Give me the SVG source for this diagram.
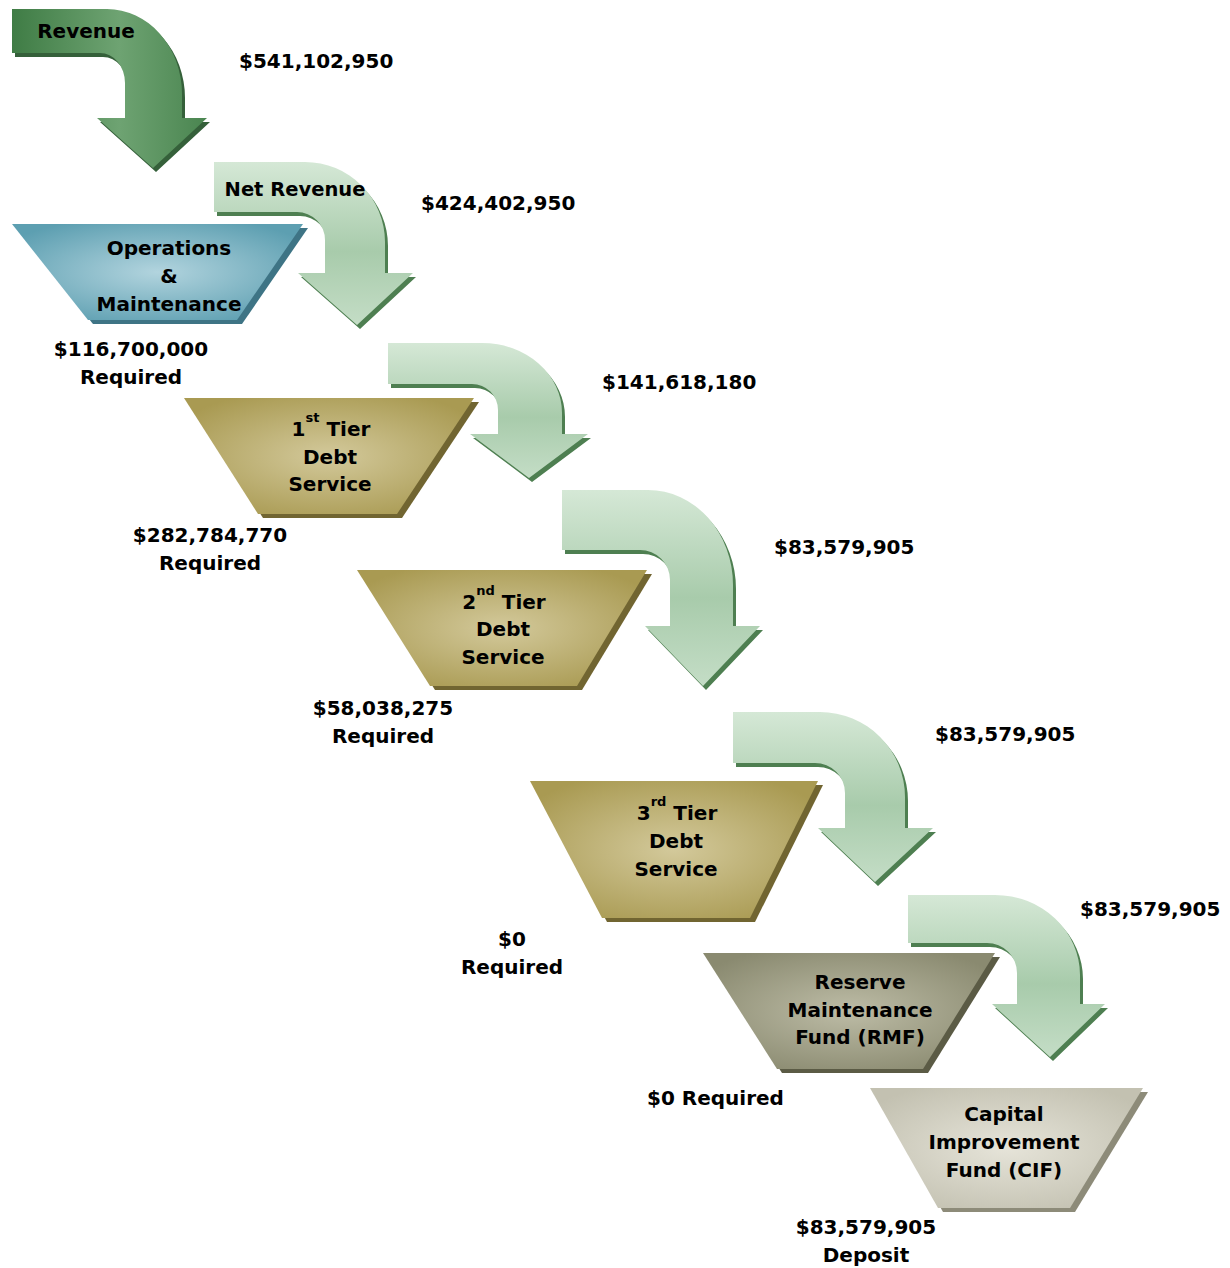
<svg xmlns="http://www.w3.org/2000/svg" width="1230" height="1268" viewBox="0 0 1230 1268">
<defs>
<linearGradient id="gLight" x1="0" y1="0" x2="0" y2="1">
<stop offset="0" stop-color="#d5e8d6"/>
<stop offset="0.55" stop-color="#a8cbab"/>
<stop offset="1" stop-color="#c4ddc6"/>
</linearGradient>
<linearGradient id="gDark" x1="0" y1="0" x2="1" y2="0">
<stop offset="0" stop-color="#3f7c45"/>
<stop offset="0.55" stop-color="#6ea372"/>
<stop offset="1" stop-color="#4a8550"/>
</linearGradient>
<radialGradient id="gTeal" cx="0.5" cy="0.5" r="0.6">
<stop offset="0" stop-color="#b2d4de"/>
<stop offset="1" stop-color="#5d9fb1"/>
</radialGradient>
<radialGradient id="gGold" cx="0.5" cy="0.5" r="0.6">
<stop offset="0" stop-color="#d3c99b"/>
<stop offset="1" stop-color="#a99a52"/>
</radialGradient>
<radialGradient id="gRmf" cx="0.5" cy="0.5" r="0.6">
<stop offset="0" stop-color="#bdbca6"/>
<stop offset="1" stop-color="#8a8a70"/>
</radialGradient>
<radialGradient id="gCif" cx="0.5" cy="0.5" r="0.6">
<stop offset="0" stop-color="#e6e4d9"/>
<stop offset="1" stop-color="#c3c1b1"/>
</radialGradient>
</defs>
<style>
text{font-family:"DejaVu Sans","Liberation Sans",sans-serif;font-weight:bold;font-size:20px;fill:#000}
.c{text-anchor:middle}
.sup{font-size:13px}
.shL{fill:#4e7f51}
.shD{fill:#35603a}
.arL{fill:url(#gLight)}
.arD{fill:url(#gDark)}
.shT{fill:#3e7485}
.shG{fill:#716531}
.shR{fill:#5b5b45}
.shC{fill:#8d8b79}
</style>

<g id="connectors">
<g id="arrow-revenue">
<path class="shD" transform="translate(3,4)" d="M12,9 L107,9 A75,85 0 0 1 182,94 L182,118 L207,118 L153,168 L97,118 L125,118 L125,83 A25,30 0 0 0 100,53 L12,53 Z"/>
<path class="arD" d="M12,9 L107,9 A75,85 0 0 1 182,94 L182,118 L207,118 L153,168 L97,118 L125,118 L125,83 A25,30 0 0 0 100,53 L12,53 Z"/>
</g>
<g id="arrow-net">
<path class="shL" transform="translate(3,4)" d="M214,162 L305,162 A80,80 0 0 1 385,242 L385,273 L413,273 L357,325 L298,273 L325,273 L325,240 A28,28 0 0 0 297,212 L214,212 Z"/>
<path class="arL" d="M214,162 L305,162 A80,80 0 0 1 385,242 L385,273 L413,273 L357,325 L298,273 L325,273 L325,240 A28,28 0 0 0 297,212 L214,212 Z"/>
</g>
<g id="arrow-3">
<path class="shL" transform="translate(3,4)" d="M388,343 L482,343 A80,70 0 0 1 562,413 L562,434 L588,434 L529,478 L470,434 L498,434 L498,410 A26,26 0 0 0 472,384 L388,384 Z"/>
<path class="arL" d="M388,343 L482,343 A80,70 0 0 1 562,413 L562,434 L588,434 L529,478 L470,434 L498,434 L498,410 A26,26 0 0 0 472,384 L388,384 Z"/>
</g>
<g id="arrow-4">
<path class="shL" transform="translate(3,4)" d="M562,490 L648,490 A85,95 0 0 1 733,585 L733,626 L760,626 L703,686 L645,626 L670,626 L670,580 A30,30 0 0 0 640,550 L562,550 Z"/>
<path class="arL" d="M562,490 L648,490 A85,95 0 0 1 733,585 L733,626 L760,626 L703,686 L645,626 L670,626 L670,580 A30,30 0 0 0 640,550 L562,550 Z"/>
</g>
<g id="arrow-5">
<path class="shL" transform="translate(3,4)" d="M733,712 L820,712 A85,85 0 0 1 905,797 L905,828 L933,828 L875,882 L818,828 L845,828 L845,793 A30,30 0 0 0 815,763 L733,763 Z"/>
<path class="arL" d="M733,712 L820,712 A85,85 0 0 1 905,797 L905,828 L933,828 L875,882 L818,828 L845,828 L845,793 A30,30 0 0 0 815,763 L733,763 Z"/>
</g>
<g id="arrow-6">
<path class="shL" transform="translate(3,4)" d="M908,895 L995,895 A85,80 0 0 1 1080,975 L1080,1004 L1105,1004 L1050,1057 L992,1004 L1017,1004 L1017,973 A30,30 0 0 0 987,943 L908,943 Z"/>
<path class="arL" d="M908,895 L995,895 A85,80 0 0 1 1080,975 L1080,1004 L1105,1004 L1050,1057 L992,1004 L1017,1004 L1017,973 A30,30 0 0 0 987,943 L908,943 Z"/>
</g>
<text x="86" y="38" class="c">Revenue</text>
<text x="295" y="196" class="c" style="font-size:19.5px">Net Revenue</text>
</g>

<g id="node-om">
<polygon class="shT" points="17,228 308,228 242,324 93,324"/>
<polygon fill="url(#gTeal)" points="12,224 303,224 237,320 88,320"/>
<text x="169" y="255" class="c">Operations</text>
<text x="169" y="283" class="c">&amp;</text>
<text x="169" y="311" class="c">Maintenance</text>
</g>

<g id="node-tier1">
<polygon class="shG" points="189,402 479,402 402,518 263,518"/>
<polygon fill="url(#gGold)" points="184,398 474,398 397,514 258,514"/>
<text x="331" y="436" class="c">1<tspan class="sup" dy="-14">st</tspan><tspan dy="14"> Tier</tspan></text>
<text x="330" y="464" class="c">Debt</text>
<text x="330" y="491" class="c">Service</text>
</g>

<g id="node-tier2">
<polygon class="shG" points="362,574 652,574 582,690 435,690"/>
<polygon fill="url(#gGold)" points="357,570 647,570 577,686 430,686"/>
<text x="504" y="609" class="c">2<tspan class="sup" dy="-14">nd</tspan><tspan dy="14"> Tier</tspan></text>
<text x="503" y="636" class="c">Debt</text>
<text x="503" y="664" class="c">Service</text>
</g>

<g id="node-tier3">
<polygon class="shG" points="535,785 823,785 755,922 607,922"/>
<polygon fill="url(#gGold)" points="530,781 818,781 750,918 602,918"/>
<text x="677" y="820" class="c">3<tspan class="sup" dy="-14">rd</tspan><tspan dy="14"> Tier</tspan></text>
<text x="676" y="848" class="c">Debt</text>
<text x="676" y="876" class="c">Service</text>
</g>

<g id="node-rmf">
<polygon class="shR" points="708,957 1000,957 928,1073 782,1073"/>
<polygon fill="url(#gRmf)" points="703,953 995,953 923,1069 777,1069"/>
<text x="860" y="989" class="c">Reserve</text>
<text x="860" y="1017" class="c">Maintenance</text>
<text x="860" y="1044" class="c">Fund (RMF)</text>
</g>

<g id="node-cif">
<polygon class="shC" points="875,1092 1148,1092 1075,1212 943,1212"/>
<polygon fill="url(#gCif)" points="870,1088 1143,1088 1070,1208 938,1208"/>
<text x="1004" y="1121" class="c">Capital</text>
<text x="1004" y="1149" class="c">Improvement</text>
<text x="1004" y="1177" class="c">Fund (CIF)</text>
</g>

<g id="labels">
<text x="239" y="68">$541,102,950</text>
<text x="421" y="210">$424,402,950</text>
<text x="131" y="356" class="c">$116,700,000</text>
<text x="131" y="384" class="c">Required</text>
<text x="602" y="389">$141,618,180</text>
<text x="210" y="542" class="c">$282,784,770</text>
<text x="210" y="570" class="c">Required</text>
<text x="774" y="554">$83,579,905</text>
<text x="383" y="715" class="c">$58,038,275</text>
<text x="383" y="743" class="c">Required</text>
<text x="935" y="741">$83,579,905</text>
<text x="512" y="946" class="c">$0</text>
<text x="512" y="974" class="c">Required</text>
<text x="1080" y="916">$83,579,905</text>
<text x="647" y="1105">$0 Required</text>
<text x="866" y="1234" class="c">$83,579,905</text>
<text x="866" y="1262" class="c">Deposit</text>
</g>
</svg>
